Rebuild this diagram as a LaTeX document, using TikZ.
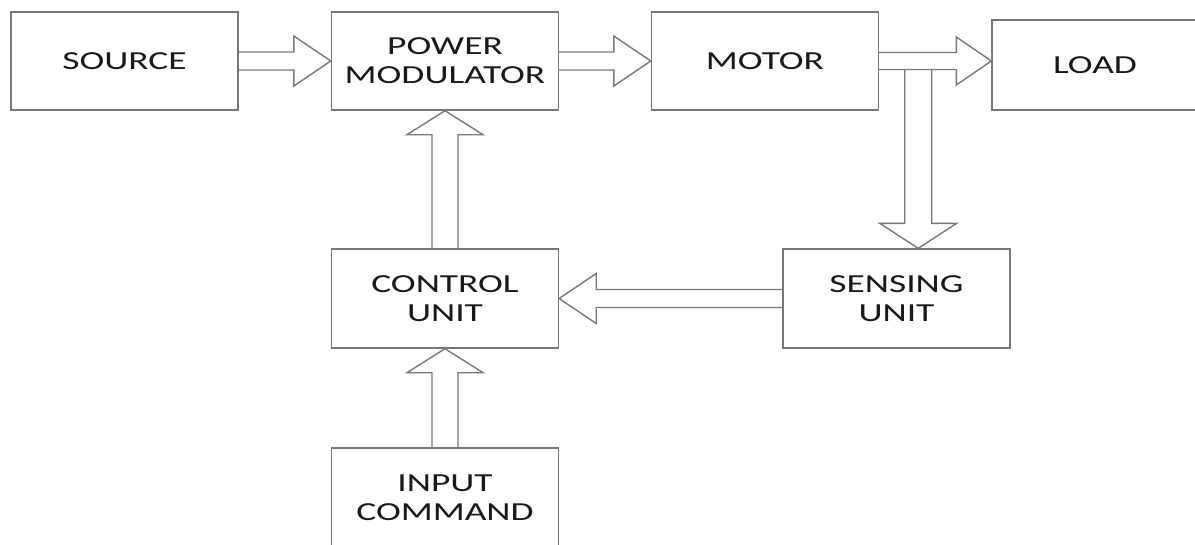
\documentclass[tikz,border=0pt]{standalone}
\usepackage{fontspec}
\setmainfont{Carlito}[FakeStretch=1.44]
\usetikzlibrary{calc}
\definecolor{linegray}{RGB}{120,120,120}
\definecolor{txt}{RGB}{25,25,25}
\tikzset{
  blk/.style={draw=linegray, line width=1.4pt, minimum width=227pt, minimum height=98pt,
    inner sep=0pt, align=center, text=txt, font=\fontsize{26}{29}\selectfont},
  fatline/.style={draw=linegray, line width=1.4pt, line join=miter}
}
% #1 shaft half width, #2 head half width, #3 head length, #4 from, #5 to
\newcommand\fatarrow[5]{%
  \draw[fatline] let \p1=(#4), \p2=(#5), \n1={veclen(\x2-\x1,\y2-\y1)},
    \n2={atan2(\y2-\y1,\x2-\x1)} in [shift={(\p1)}, rotate=\n2]
    (0pt,#1) -- ({\n1-#3},#1) -- ({\n1-#3},#2) -- (\n1,0pt)
    -- ({\n1-#3},-#2) -- ({\n1-#3},-#1) -- (0pt,-#1);}
\begin{document}
\begin{tikzpicture}[x=1pt,y=-1pt]
\useasboundingbox[fill=white] (0,0) rectangle (1195,544);
\node[blk] (src) at (124.5,61) {SOURCE};
\node[blk] (pm) at (445,61) {POWER\\MODULATOR};
\node[blk] (mot) at (765,61) {MOTOR};
\node[blk, minimum width=206pt, minimum height=90pt] (load) at (1095,65) {LOAD};
\node[blk, minimum height=99pt] (ctl) at (445,298.5) {CONTROL\\UNIT};
\node[blk, minimum height=99pt] (sens) at (896.5,298.5) {SENSING\\UNIT};
\node[blk, minimum height=99pt] (inp) at (445,497.5) {INPUT\\COMMAND};
\coordinate (j) at ($(mot.east)+(39,8.5)$);
\fatarrow{9pt}{25pt}{37pt}{src.east}{pm.west}
\fatarrow{9pt}{25pt}{37pt}{pm.east}{mot.west}
\fatarrow{8.5pt}{24pt}{35pt}{mot.east}{mot.east -| load.west}
\fatarrow{13.5pt}{38.5pt}{25pt}{j}{j |- sens.north}
\fatarrow{9pt}{25pt}{37pt}{sens.west}{ctl.east}
\fatarrow{13pt}{38pt}{24pt}{ctl.north}{pm.south}
\fatarrow{13pt}{38pt}{24pt}{inp.north}{ctl.south}
\end{tikzpicture}
\end{document}
